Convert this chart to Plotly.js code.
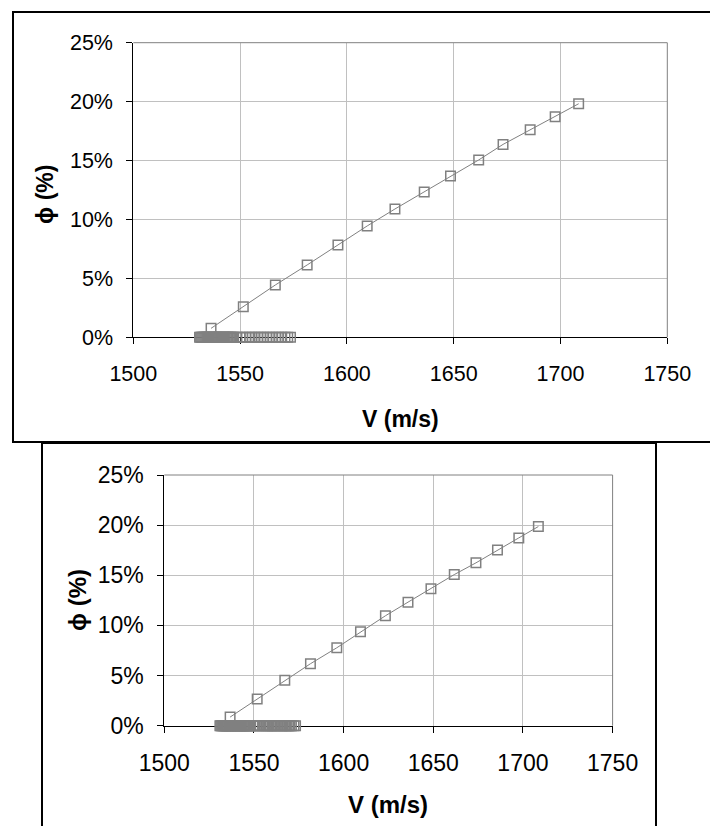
<!DOCTYPE html>
<html>
<head>
<meta charset="utf-8">
<script src="https://cdn.plot.ly/plotly-3.0.1.min.js"></script>
<style>
  html, body { margin: 0; padding: 0; background: #fff; }
  #chart { width: 710px; height: 826px; }
</style>
</head>
<body>
<div id="chart"></div>
<script>
// ---- Data ----
// Top chart: main series (V in m/s, phi in %)
const vTop   = [1536.4, 1551.5, 1566.5, 1581.4, 1595.8, 1609.5, 1622.5, 1636.2, 1648.5, 1661.7, 1673.1, 1685.8, 1697.5, 1708.5];
const phiTop = [0.76, 2.60, 4.44, 6.14, 7.83, 9.45, 10.89, 12.33, 13.69, 15.05, 16.37, 17.62, 18.72, 19.82];

// Top chart: points lying on 0 %
const vZeroTop = [1531.0, 1531.5, 1532.0, 1532.5, 1533.0, 1533.5, 1534.0, 1534.5, 1535.0, 1535.5,
                  1536.0, 1536.5, 1537.0, 1537.5, 1538.0, 1538.5, 1539.0, 1539.5, 1540.0, 1540.5,
                  1541.0, 1541.5, 1542.0, 1542.5, 1543.0, 1543.5, 1544.0, 1544.5, 1545.0, 1545.5,
                  1546.0, 1546.5, 1547.0,
                  1548.5, 1550.0, 1551.3, 1552.8, 1554.5, 1555.6, 1557.0, 1558.4, 1559.8, 1561.1,
                  1562.6, 1564.0, 1565.3, 1566.8, 1568.1, 1569.5, 1571.0, 1572.3, 1573.6];
const phiZeroTop = [0, 0, 0, 0, 0, 0, 0, 0, 0, 0,
                    0, 0, 0, 0, 0, 0, 0, 0, 0, 0,
                    0, 0, 0, 0, 0, 0, 0, 0, 0, 0,
                    0, 0, 0,
                    0, 0, 0, 0, 0, 0, 0, 0, 0, 0,
                    0, 0, 0, 0, 0, 0, 0, 0, 0];

// Bottom chart: main series
const vBot   = [1536.7, 1551.8, 1567.2, 1581.5, 1596.2, 1609.4, 1623.3, 1635.9, 1648.7, 1661.7, 1673.8, 1685.8, 1697.7, 1708.6];
const phiBot = [0.86, 2.66, 4.52, 6.18, 7.77, 9.36, 10.96, 12.32, 13.65, 15.07, 16.24, 17.53, 18.73, 19.86];

// Bottom chart: points lying on 0 %
const vZeroBot = [1531.0, 1531.5, 1532.0, 1532.5, 1533.0, 1533.5, 1534.0, 1534.5, 1535.0, 1535.5,
                  1536.0, 1536.5, 1537.0, 1537.5, 1538.0, 1538.5, 1539.0, 1539.5, 1540.0, 1540.5,
                  1541.0, 1541.5, 1542.0, 1542.5, 1543.0, 1543.5, 1544.0, 1544.5, 1545.0, 1545.5,
                  1546.0, 1546.5, 1547.0, 1547.5, 1548.0,
                  1549.5, 1550.5, 1551.5, 1552.5, 1553.5, 1555.0,
                  1556.0, 1556.8, 1557.6, 1558.4, 1559.2, 1560.0, 1560.8, 1561.6, 1562.4, 1563.2,
                  1564.5, 1565.3, 1566.1, 1566.9, 1567.7, 1568.5, 1569.3, 1570.1, 1570.9, 1572.3, 1573.2];
const phiZeroBot = [0, 0, 0, 0, 0, 0, 0, 0, 0, 0,
                    0, 0, 0, 0, 0, 0, 0, 0, 0, 0,
                    0, 0, 0, 0, 0, 0, 0, 0, 0, 0,
                    0, 0, 0, 0, 0,
                    0, 0, 0, 0, 0, 0,
                    0, 0, 0, 0, 0, 0, 0, 0, 0, 0,
                    0, 0, 0, 0, 0, 0, 0, 0, 0, 0, 0];

// Axis ticks
const xTicks = [1500, 1550, 1600, 1650, 1700, 1750];
const yTicks = [0, 5, 10, 15, 20, 25];
const yTickText = ['0%', '5%', '10%', '15%', '20%', '25%'];
const xTitle = 'V (m/s)';
const yTitle = 'ϕ (%)';

// ---- Styling ----
const W = 710, H = 826;
const px = v => v / W;
const py = v => 1 - v / H;
const grey = '#808080';
const FONT = 'Arial, "Liberation Sans", sans-serif';

function mainTrace(x, y, xa, ya) {
  return {
    x: x, y: y, xaxis: xa, yaxis: ya, type: 'scatter', mode: 'lines+markers',
    line: { color: grey, width: 1 },
    marker: { symbol: 'square-open', size: 9.5, color: grey, line: { color: grey, width: 1.5 } },
    cliponaxis: false, showlegend: false, hoverinfo: 'x+y'
  };
}
function zeroTrace(x, y, xa, ya) {
  return {
    x: x, y: y, xaxis: xa, yaxis: ya, type: 'scatter', mode: 'markers',
    marker: { symbol: 'square-open', size: 9.5, color: grey, line: { color: grey, width: 1.5 } },
    cliponaxis: false, showlegend: false, hoverinfo: 'x+y'
  };
}

function xAxis(domain, anchor, fs) {
  return {
    domain: domain, anchor: anchor, range: [1500, 1750], tickvals: xTicks,
    ticks: 'outside', ticklen: 6, tickcolor: '#000', tickwidth: 1,
    showline: true, linecolor: '#000', linewidth: 1,
    showgrid: true, gridcolor: '#c0c0c0', gridwidth: 1, zeroline: false,
    tickfont: { family: FONT, size: fs, color: '#000' },
    ticklabelstandoff: 11, layer: 'below traces', fixedrange: true
  };
}
function yAxis(domain, anchor, fs) {
  return {
    domain: domain, anchor: anchor, range: [0, 25], tickvals: yTicks, ticktext: yTickText,
    ticks: 'outside', ticklen: 6, tickcolor: '#000', tickwidth: 1,
    showline: true, linecolor: '#000', linewidth: 1,
    showgrid: true, gridcolor: '#c0c0c0', gridwidth: 1, zeroline: false,
    tickfont: { family: FONT, size: fs, color: '#000' },
    ticklabelstandoff: 9, layer: 'below traces', fixedrange: true
  };
}

const data = [
  mainTrace(vTop, phiTop, 'x', 'y'),
  zeroTrace(vZeroTop, phiZeroTop, 'x', 'y'),
  mainTrace(vBot, phiBot, 'x2', 'y2'),
  zeroTrace(vZeroBot, phiZeroBot, 'x2', 'y2')
];

const layout = {
  width: W, height: H,
  margin: { l: 0, r: 0, t: 0, b: 0 },
  paper_bgcolor: '#fff', plot_bgcolor: '#fff',
  showlegend: false,
  xaxis:  xAxis([px(133.3), px(667.3)], 'y', 21.5),
  yaxis:  yAxis([py(337.3), py(42.7)], 'x', 21.5),
  xaxis2: xAxis([px(164.3), px(612.6)], 'y2', 23),
  yaxis2: yAxis([py(725.7), py(475)], 'x2', 23),
  shapes: [
    // outer frames
    { type: 'rect', xref: 'paper', yref: 'paper', x0: px(13), x1: px(716), y0: py(442), y1: py(12),
      line: { color: '#000', width: 2 }, fillcolor: 'rgba(0,0,0,0)' },
    { type: 'rect', xref: 'paper', yref: 'paper', x0: px(42), x1: px(656), y0: py(832), y1: py(443),
      line: { color: '#000', width: 2 }, fillcolor: 'rgba(0,0,0,0)' },
    // plot-area top/right borders (grey)
    { type: 'line', xref: 'x domain', yref: 'y domain', x0: 0, x1: 1, y0: 1, y1: 1, line: { color: grey, width: 1 } },
    { type: 'line', xref: 'x domain', yref: 'y domain', x0: 1, x1: 1, y0: 0, y1: 1, line: { color: grey, width: 1 } },
    { type: 'line', xref: 'x2 domain', yref: 'y2 domain', x0: 0, x1: 1, y0: 1, y1: 1, line: { color: grey, width: 1 } },
    { type: 'line', xref: 'x2 domain', yref: 'y2 domain', x0: 1, x1: 1, y0: 0, y1: 1, line: { color: grey, width: 1 } }
  ],
  annotations: [
    { text: '<b>' + xTitle + '</b>', xref: 'paper', yref: 'paper', x: px(400.8), y: py(419),
      xanchor: 'center', yanchor: 'middle', showarrow: false, font: { family: FONT, size: 23, color: '#000' } },
    { text: '<b>' + yTitle + '</b>', xref: 'paper', yref: 'paper', x: px(45), y: py(195), textangle: -90,
      xanchor: 'center', yanchor: 'middle', showarrow: false, font: { family: FONT, size: 23, color: '#000' } },
    { text: '<b>' + xTitle + '</b>', xref: 'paper', yref: 'paper', x: px(388), y: py(804.5),
      xanchor: 'center', yanchor: 'middle', showarrow: false, font: { family: FONT, size: 24, color: '#000' } },
    { text: '<b>' + yTitle + '</b>', xref: 'paper', yref: 'paper', x: px(77), y: py(600), textangle: -90,
      xanchor: 'center', yanchor: 'middle', showarrow: false, font: { family: FONT, size: 24, color: '#000' } }
  ]
};

Plotly.newPlot('chart', data, layout, { displayModeBar: false, staticPlot: true });
</script>
</body>
</html>
